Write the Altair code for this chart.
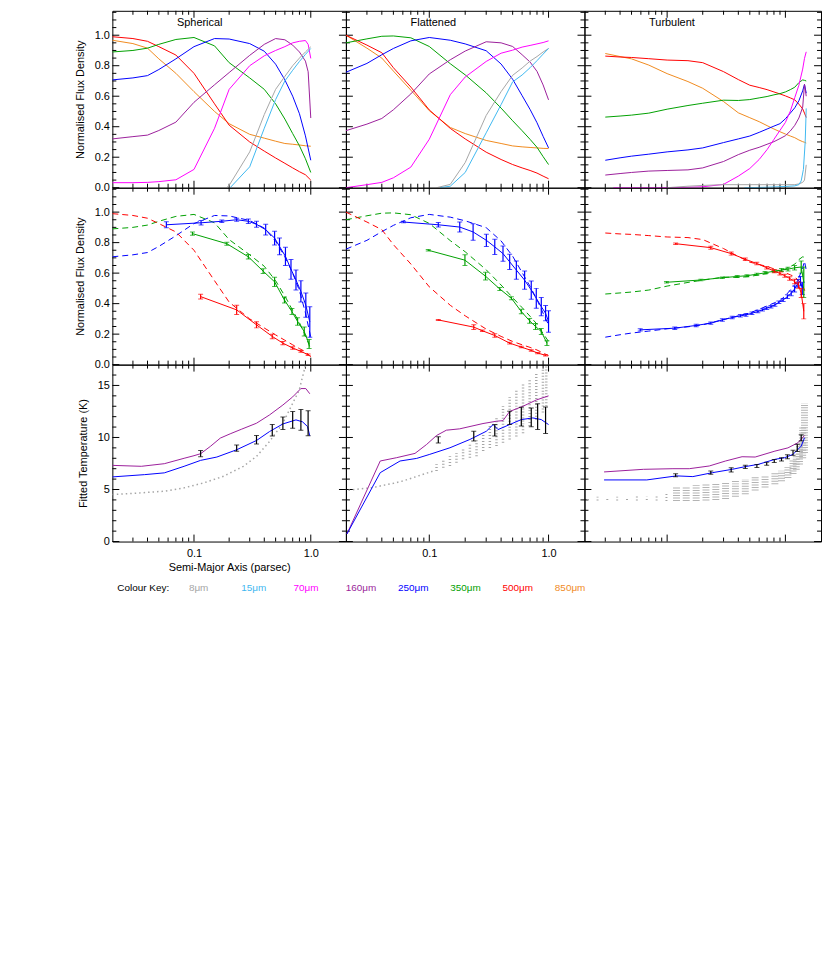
import altair as alt
import pandas as pd

FONT = "Liberation Sans"
W = [235, 240, 238]
H = 178
XDOM = [0.02, 2.0]
FLUX = [0.0, 1.16]
TEMP = [0.0, 17.0]

C8, C15, C70, C160, C250, C350, C500, C850 = ("#a6a6a6", "#3fb8f0", "#ff00ff", "#9b1f9b",
                                              "#0000ff", "#00a000", "#ff0000", "#f08a1e")
KEY_LABELS = ["8μm", "15μm", "70μm", "160μm", "250μm", "350μm", "500μm", "850μm"]
KEY_COLOURS = [C8, C15, C70, C160, C250, C350, C500, C850]
PANEL_TITLES = ["Spherical", "Flattened", "Turbulent"]

# tick values
MAJOR_X = [0.1, 1.0]
MINOR_X = [0.03, 0.04, 0.05, 0.06, 0.07, 0.08, 0.09, 0.2, 0.3, 0.4, 0.5, 0.6, 0.7, 0.8, 0.9]
FLUX_MAJOR = [0.0, 0.2, 0.4, 0.6, 0.8, 1.0]
FLUX_MINOR = [0.05, 0.1, 0.15, 0.25, 0.3, 0.35, 0.45, 0.5, 0.55, 0.65, 0.7, 0.75, 0.85, 0.9, 0.95,
              1.05, 1.1, 1.15]
T_MAJOR = [0, 5, 10, 15]
T_MINOR = [1, 2, 3, 4, 6, 7, 8, 9, 11, 12, 13, 14, 16]

# ---------------- Row 1 : Spherical ----------------
SPH_X = [0.02, 0.03, 0.04, 0.05, 0.07, 0.1, 0.15, 0.2, 0.3, 0.4, 0.5, 0.6, 0.7, 0.8, 0.9, 1.0]
SPH_X2 = [0.02, 0.03, 0.04, 0.05, 0.07, 0.1, 0.15, 0.2, 0.3, 0.4, 0.5, 0.6, 0.7, 0.8, 0.9, 0.95, 1.0]
sph_500 = [0.99, 0.978, 0.96, 0.925, 0.87, 0.75, 0.55, 0.41, 0.30, 0.24, 0.195, 0.16, 0.13, 0.105, 0.085, 0.05]
sph_850 = [0.967, 0.945, 0.915, 0.845, 0.75, 0.63, 0.50, 0.42, 0.35, 0.325, 0.305, 0.29, 0.285, 0.28, 0.275, 0.272]
sph_350 = [0.89, 0.90, 0.915, 0.94, 0.972, 0.985, 0.93, 0.82, 0.72, 0.645, 0.55, 0.45, 0.355, 0.275, 0.19, 0.10]
sph_250 = [0.707, 0.72, 0.735, 0.775, 0.845, 0.925, 0.978, 0.975, 0.945, 0.895, 0.81, 0.707, 0.60, 0.485, 0.34, 0.18]
sph_160 = [0.32, 0.335, 0.345, 0.375, 0.43, 0.56, 0.675, 0.755, 0.868, 0.94, 0.978, 0.97, 0.935, 0.89, 0.83, 0.76, 0.457]
sph_70 = [0.033, 0.033, 0.035, 0.04, 0.052, 0.12, 0.39, 0.645, 0.80, 0.865, 0.90, 0.925, 0.95, 0.96, 0.965, 0.94, 0.848]
sph_8_x = [0.19, 0.2, 0.3, 0.4, 0.5, 0.6, 0.7, 0.8, 0.9, 1.0]
sph_8 = [0.0, 0.015, 0.235, 0.48, 0.645, 0.73, 0.80, 0.85, 0.89, 0.924]
sph_15_x = [0.204, 0.3, 0.4, 0.5, 0.6, 0.7, 0.8, 0.9, 1.0]
sph_15 = [0.0, 0.137, 0.39, 0.578, 0.70, 0.77, 0.828, 0.874, 0.913]

# ---------------- Row 1 : Flattened ----------------
FLT_X = [0.02, 0.03, 0.04, 0.05, 0.07, 0.1, 0.15, 0.2, 0.3, 0.4, 0.5, 0.6, 0.7, 0.8, 0.9, 1.0]
flt_500 = [1.0, 0.935, 0.885, 0.787, 0.66, 0.51, 0.389, 0.32, 0.233, 0.185, 0.152, 0.13, 0.113, 0.096, 0.076, 0.059]
flt_850 = [1.0, 0.915, 0.85, 0.765, 0.64, 0.505, 0.395, 0.355, 0.31, 0.29, 0.274, 0.268, 0.264, 0.261, 0.258, 0.257]
flt_350 = [0.95, 0.976, 0.993, 0.995, 0.983, 0.926, 0.813, 0.74, 0.622, 0.522, 0.439, 0.374, 0.317, 0.265, 0.204, 0.152]
flt_250 = [0.757, 0.815, 0.872, 0.913, 0.963, 0.985, 0.967, 0.943, 0.898, 0.811, 0.711, 0.604, 0.513, 0.426, 0.337, 0.261]
flt_160 = [0.374, 0.417, 0.454, 0.511, 0.615, 0.746, 0.839, 0.896, 0.957, 0.95, 0.926, 0.872, 0.824, 0.763, 0.674, 0.576]
flt_70 = [0.0, 0.02, 0.035, 0.065, 0.135, 0.318, 0.61, 0.726, 0.828, 0.882, 0.902, 0.922, 0.933, 0.943, 0.952, 0.963]
flt_8_x = [0.115, 0.15, 0.2, 0.3, 0.4, 0.5, 0.6, 0.7, 0.8, 0.9, 1.0]
flt_8 = [0.0, 0.022, 0.165, 0.474, 0.63, 0.737, 0.785, 0.83, 0.86, 0.89, 0.913]
flt_15_x = [0.123, 0.15, 0.2, 0.3, 0.4, 0.5, 0.6, 0.7, 0.8, 0.9, 1.0]
flt_15 = [0.0, 0.01, 0.10, 0.36, 0.545, 0.694, 0.739, 0.787, 0.833, 0.876, 0.913]

# ---------------- Row 1 : Turbulent ----------------
TUR_X = [0.03, 0.04, 0.05, 0.07, 0.1, 0.15, 0.2, 0.3, 0.4, 0.5, 0.6, 0.7, 0.8, 0.9, 1.0, 1.1, 1.2, 1.3,
         1.4, 1.45, 1.5]
tur_500 = [0.863, 0.857, 0.854, 0.846, 0.837, 0.833, 0.82, 0.761, 0.709, 0.672, 0.657, 0.643, 0.628,
           0.615, 0.602, 0.589, 0.576, 0.548, 0.517, 0.489, 0.46]
tur_850 = [0.88, 0.86, 0.845, 0.804, 0.748, 0.696, 0.652, 0.565, 0.491, 0.459, 0.433, 0.407, 0.385,
           0.367, 0.352, 0.339, 0.328, 0.313, 0.302, 0.298, 0.293]
tur_350 = [0.463, 0.47, 0.476, 0.489, 0.515, 0.539, 0.554, 0.574, 0.572, 0.578, 0.589, 0.598, 0.609,
           0.617, 0.628, 0.643, 0.659, 0.689, 0.707, 0.704, 0.70]
tur_250 = [0.18, 0.196, 0.207, 0.22, 0.235, 0.248, 0.261, 0.296, 0.32, 0.339, 0.363, 0.385, 0.404,
           0.42, 0.452, 0.489, 0.524, 0.57, 0.635, 0.678, 0.62]
tur_160 = [0.083, 0.093, 0.10, 0.109, 0.113, 0.117, 0.13, 0.172, 0.217, 0.246, 0.265, 0.285, 0.302,
           0.322, 0.341, 0.372, 0.409, 0.457, 0.528, 0.678, 0.60]
tur_70_x = [0.035, 0.05, 0.07, 0.1, 0.15, 0.2, 0.3, 0.4, 0.5, 0.6, 0.7, 0.8, 0.9, 1.0, 1.1, 1.2, 1.3,
            1.4, 1.45, 1.5]
tur_70 = [0.0, 0.0, 0.0, 0.0, 0.003, 0.006, 0.022, 0.076, 0.126, 0.185, 0.25, 0.317, 0.376, 0.428,
          0.502, 0.591, 0.672, 0.778, 0.848, 0.891]
tur_8_x = [0.1, 0.15, 0.2, 0.3, 0.5, 0.7, 1.0, 1.2, 1.3, 1.4, 1.45, 1.5]
tur_8 = [0.0, 0.01, 0.015, 0.02, 0.02, 0.02, 0.02, 0.02, 0.025, 0.035, 0.05, 0.15]
tur_15_x = [0.45, 0.7, 1.0, 1.2, 1.3, 1.36, 1.42, 1.47, 1.5]
tur_15 = [0.0, 0.003, 0.008, 0.012, 0.02, 0.045, 0.12, 0.3, 0.52]

# ---------------- Row 2 : fitted profiles (x, value, error) ----------------
sph_fit_250_x = [0.058, 0.115, 0.173, 0.232, 0.292, 0.343, 0.411, 0.49, 0.54, 0.607, 0.677, 0.747,
                 0.823, 0.907, 0.981]
sph_fit_250 = [0.917, 0.93, 0.94, 0.95, 0.94, 0.92, 0.885, 0.83, 0.775, 0.71, 0.625, 0.555, 0.48, 0.39, 0.28]
sph_fit_250_e = [0.02, 0.015, 0.008, 0.01, 0.015, 0.02, 0.035, 0.045, 0.055, 0.06, 0.065, 0.065, 0.07,
                 0.08, 0.1]
sph_fit_350_x = [0.097, 0.191, 0.292, 0.391, 0.49, 0.595, 0.69, 0.771, 0.879, 0.968]
sph_fit_350 = [0.859, 0.793, 0.707, 0.613, 0.543, 0.424, 0.348, 0.283, 0.217, 0.135]
sph_fit_350_e = [0.01, 0.01, 0.015, 0.015, 0.03, 0.02, 0.02, 0.025, 0.03, 0.03]
sph_fit_500_x = [0.114, 0.232, 0.343, 0.468, 0.577, 0.70, 0.823, 0.949]
sph_fit_500 = [0.446, 0.359, 0.261, 0.185, 0.141, 0.109, 0.087, 0.065]
sph_fit_500_e = [0.015, 0.03, 0.02, 0.015, 0.01, 0.008, 0.006, 0.005]

flt_fit_250_x = [0.0607, 0.119, 0.180, 0.233, 0.301, 0.354, 0.415, 0.472, 0.537, 0.630, 0.716, 0.789,
                 0.869, 0.944, 1.0]
flt_fit_250 = [0.935, 0.917, 0.902, 0.87, 0.815, 0.772, 0.728, 0.674, 0.62, 0.554, 0.489, 0.435, 0.38,
               0.337, 0.283]
flt_fit_250_e = [0.005, 0.015, 0.033, 0.054, 0.04, 0.05, 0.05, 0.05, 0.06, 0.06, 0.06, 0.065, 0.06, 0.05, 0.07]
flt_fit_350_x = [0.098, 0.199, 0.296, 0.39, 0.488, 0.591, 0.694, 0.778, 0.869, 0.969]
flt_fit_350 = [0.75, 0.685, 0.58, 0.496, 0.435, 0.348, 0.287, 0.25, 0.217, 0.141]
flt_fit_350_e = [0.005, 0.035, 0.025, 0.01, 0.01, 0.015, 0.015, 0.02, 0.02, 0.015]
flt_fit_500_x = [0.119, 0.236, 0.279, 0.354, 0.472, 0.591, 0.716, 0.81, 0.944]
flt_fit_500 = [0.293, 0.246, 0.222, 0.191, 0.141, 0.115, 0.093, 0.076, 0.061]
flt_fit_500_e = [0.003, 0.015, 0.005, 0.012, 0.005, 0.005, 0.005, 0.004, 0.004]

tur_fit_500_x = [0.118, 0.234, 0.348, 0.458, 0.573, 0.695, 0.805, 0.898, 0.988, 1.086, 1.196, 1.29, 1.36, 1.43]
tur_fit_500 = [0.793, 0.767, 0.728, 0.691, 0.663, 0.635, 0.613, 0.598, 0.583, 0.565, 0.545, 0.52, 0.47, 0.35]
tur_fit_500_e = [0.005, 0.01, 0.01, 0.008, 0.008, 0.008, 0.01, 0.01, 0.01, 0.012, 0.015, 0.02, 0.03, 0.05]
tur_fit_350_x = [0.0987, 0.193, 0.293, 0.391, 0.473, 0.573, 0.673, 0.805, 0.927, 1.052, 1.196, 1.36, 1.43]
tur_fit_350 = [0.54, 0.555, 0.57, 0.578, 0.583, 0.593, 0.602, 0.613, 0.62, 0.626, 0.635, 0.64, 0.54]
tur_fit_350_e = [0.005, 0.005, 0.005, 0.006, 0.006, 0.007, 0.008, 0.008, 0.01, 0.012, 0.015, 0.04, 0.1]
tur_fit_250_x = [0.0592, 0.116, 0.176, 0.234, 0.293, 0.355, 0.416, 0.464, 0.521, 0.585, 0.640, 0.695,
                 0.755, 0.815, 0.880, 0.957, 1.04, 1.12, 1.196, 1.275, 1.34, 1.39]
tur_fit_250 = [0.228, 0.239, 0.257, 0.272, 0.293, 0.309, 0.32, 0.326, 0.337, 0.348, 0.359, 0.37, 0.38,
               0.391, 0.409, 0.424, 0.446, 0.467, 0.496, 0.533, 0.548, 0.5]
tur_fit_250_e = [0.008, 0.008, 0.008, 0.008, 0.008, 0.008, 0.008, 0.008, 0.008, 0.008, 0.008, 0.008,
                 0.008, 0.008, 0.008, 0.01, 0.012, 0.015, 0.02, 0.025, 0.03, 0.04]

# ---------------- Row 3 : fitted temperatures ----------------
sph_t160_x = [0.02, 0.0354, 0.0557, 0.0823, 0.1, 0.114, 0.138, 0.168, 0.204, 0.256, 0.343, 0.444, 0.577,
              0.70, 0.823, 0.907, 0.981]
sph_t160 = [7.32, 7.23, 7.48, 8.0, 8.25, 8.44, 9.14, 9.94, 10.35, 10.8, 11.37, 12.17, 13.12, 13.9, 14.7, 14.7, 14.2]
sph_t250_x = [0.02, 0.0378, 0.0557, 0.0823, 0.114, 0.157, 0.232, 0.343, 0.444, 0.577, 0.747, 0.851, 0.938, 0.981]
sph_t250 = [6.21, 6.43, 6.6, 7.23, 7.8, 8.12, 8.82, 9.71, 10.57, 11.3, 11.69, 11.5, 11.05, 10.16]
sph_tfit_x = [0.114, 0.232, 0.343, 0.468, 0.577, 0.70, 0.823, 0.949]
sph_tfit = [8.44, 8.98, 9.78, 10.7, 11.37, 11.69, 11.69, 11.37]
sph_tfit_e = [0.3, 0.3, 0.4, 0.55, 0.6, 0.8, 1.0, 1.2]
sph_t8_x = [0.02, 0.0354, 0.0557, 0.0823, 0.1215, 0.179, 0.265, 0.343, 0.444, 0.577, 0.70, 0.796, 0.879, 0.93]
sph_t8 = [4.52, 4.68, 4.84, 5.16, 5.64, 6.27, 7.23, 8.18, 9.62, 11.37, 13.28, 14.55, 16.46, 17.4]

flt_t160_x = [0.0204, 0.0388, 0.0533, 0.0759, 0.095, 0.115, 0.139, 0.180, 0.282, 0.365, 0.415, 0.472,
              0.61, 0.789, 1.0]
flt_t160 = [0.73, 7.74, 8.06, 8.47, 9.33, 10.19, 10.7, 10.83, 11.34, 11.56, 11.62, 12.5, 13.0, 13.6, 14.0]
flt_t250_x = [0.0204, 0.0388, 0.0569, 0.0784, 0.101, 0.149, 0.219, 0.301, 0.343, 0.377, 0.472, 0.591,
              0.739, 0.869, 1.0]
flt_t250 = [0.73, 6.62, 7.74, 7.99, 8.38, 9.01, 9.81, 10.6, 11.24, 10.76, 11.24, 11.72, 11.88, 11.72, 11.24]
flt_tfit_x = [0.119, 0.236, 0.354, 0.472, 0.591, 0.716, 0.81, 0.944]
flt_tfit = [9.78, 10.13, 10.7, 11.88, 12.0, 11.94, 12.0, 11.65]
flt_tfit_e = [0.3, 0.48, 0.55, 0.64, 0.9, 0.9, 1.24, 1.27]
flt_t8_x = [0.021, 0.034, 0.0413, 0.05, 0.0607, 0.0735, 0.089, 0.108]
flt_t8 = [4.94, 5.19, 5.41, 5.6, 5.83, 6.15, 6.46, 6.78]
flt_t8c_x = [0.115, 0.131, 0.149, 0.169, 0.192, 0.219, 0.249, 0.283, 0.322, 0.366, 0.415, 0.472, 0.537,
             0.611, 0.694, 0.789, 0.897, 0.957]
flt_t8c_lo = [6.78, 7.1, 7.26, 7.58, 7.9, 8.06, 8.2, 8.7, 9.0, 9.17, 9.5, 9.8, 10.1, 10.4, 11.1, 11.7, 12.4, 13.0]
flt_t8c_hi = [7.42, 7.9, 8.2, 8.5, 8.85, 9.33, 9.8, 10.3, 11.1, 12.0, 13.0, 13.9, 14.6, 15.2, 15.7, 16.2,
              16.7, 17.1]

tur_t160_x = [0.0293, 0.063, 0.112, 0.154, 0.227, 0.312, 0.43, 0.555, 0.815, 1.05, 1.275, 1.45]
tur_t160 = [6.69, 6.94, 7.0, 7.0, 7.26, 7.74, 8.15, 8.12, 8.69, 9.0, 9.49, 10.19]
tur_t250_x = [0.0293, 0.0673, 0.12, 0.165, 0.242, 0.355, 0.458, 0.591, 0.815, 0.988, 1.16, 1.275, 1.36, 1.45]
tur_t250 = [5.92, 5.92, 6.31, 6.24, 6.62, 6.94, 7.2, 7.42, 7.9, 8.06, 8.38, 8.85, 9.17, 9.97]
tur_tfit_x = [0.118, 0.234, 0.348, 0.458, 0.574, 0.695, 0.805, 0.927, 1.04, 1.16, 1.26, 1.36]
tur_tfit = [6.37, 6.62, 6.88, 7.17, 7.26, 7.48, 7.74, 7.9, 8.15, 8.53, 9.0, 9.97]
tur_tfit_e = [0.15, 0.15, 0.2, 0.15, 0.15, 0.15, 0.15, 0.15, 0.2, 0.25, 0.35, 0.3]
tur_t8s_x = [0.0213, 0.0258, 0.0312, 0.0378, 0.0458, 0.0555, 0.0673, 0.0815, 0.0987]
tur_t8s_lo = [4.0, 3.95, 4.0, 3.95, 4.0, 3.95, 4.0, 3.95, 3.9]
tur_t8s_hi = [4.2, 4.3, 4.2, 4.3, 4.25, 4.35, 4.3, 4.4, 4.6]
tur_t8c_x = [0.12, 0.145, 0.176, 0.213, 0.258, 0.312, 0.378, 0.458, 0.555, 0.673, 0.815, 0.927, 1.05,
             1.16, 1.235, 1.315, 1.40, 1.45]
tur_t8c_lo = [3.9, 3.9, 3.9, 3.95, 4.0, 4.1, 4.3, 4.55, 4.9, 5.2, 5.5, 5.8, 6.1, 6.5, 6.9, 7.4, 8.0, 8.5]
tur_t8c_hi = [5.3, 5.3, 5.4, 5.5, 5.6, 5.7, 5.85, 6.0, 6.2, 6.4, 6.6, 6.8, 7.2, 7.8, 8.4, 9.5, 11.0, 13.3]


# ---------------- helpers ----------------
# axes of the panel being built; every layer of a panel gets the same axis definitions
AX = {"x": None, "y": None}


def xsc():
    return alt.Scale(type="log", domain=XDOM, nice=False)


def ysc(dom):
    return alt.Scale(domain=dom, nice=False, zero=False)


def X(field):
    return alt.X(field, scale=xsc(), axis=AX["x"])


def Y(field, dom):
    return alt.Y(field, scale=ysc(dom), axis=AX["y"])


def line(xs, ys, color, ydom, dash=None, width=1.0):
    kw = dict(color=color, strokeWidth=width, clip=True)
    if dash:
        kw["strokeDash"] = dash
    return alt.Chart(pd.DataFrame({"x": xs, "y": ys})).mark_line(**kw).encode(
        x=X("x:Q"), y=Y("y:Q", ydom))


def errbars(xs, ys, es, color, ydom, fit_line=True):
    df = pd.DataFrame({"x": xs, "y": ys,
                       "lo": [a - b for a, b in zip(ys, es)],
                       "hi": [a + b for a, b in zip(ys, es)]})
    out = []
    if fit_line:
        out.append(alt.Chart(df).mark_line(color=color, strokeWidth=1, clip=True).encode(
            x=X("x:Q"), y=Y("y:Q", ydom)))
    out.append(alt.Chart(df).mark_rule(color=color, strokeWidth=1.2, clip=True).encode(
        x=X("x:Q"), y=Y("lo:Q", ydom), y2="hi:Q"))
    for f in ("lo", "hi"):
        out.append(alt.Chart(df).mark_tick(color=color, orient="horizontal", size=5, thickness=1,
                                           clip=True).encode(x=X("x:Q"), y=Y(f + ":Q", ydom)))
    return out


def columns(xs, lo, hi, ydom, width, dash, color=C8, opacity=1.0):
    df = pd.DataFrame({"x": xs, "lo": lo, "hi": hi})
    return alt.Chart(df).mark_rule(color=color, strokeWidth=width, strokeDash=dash, clip=True,
                                   opacity=opacity).encode(
        x=X("x:Q"), y=Y("lo:Q", ydom), y2="hi:Q")


def tick_layers(c, ydom, ymajor, yminor):
    w = W[c]
    out = []
    for vals, L in ((MAJOR_X, 7), (MINOR_X, 4)):
        df = pd.DataFrame({"t": vals})
        out.append(alt.Chart(df).mark_rule(color="black", strokeWidth=1).encode(
            x=X("t:Q"), y=alt.value(H), y2=alt.value(H - L)))
        out.append(alt.Chart(df).mark_rule(color="black", strokeWidth=1).encode(
            x=X("t:Q"), y=alt.value(0), y2=alt.value(L)))
    for vals, L in ((ymajor, 7), (yminor, 4)):
        df = pd.DataFrame({"t": vals})
        out.append(alt.Chart(df).mark_rule(color="black", strokeWidth=1).encode(
            y=Y("t:Q", ydom), x=alt.value(0), x2=alt.value(L)))
        out.append(alt.Chart(df).mark_rule(color="black", strokeWidth=1).encode(
            y=Y("t:Q", ydom), x=alt.value(w), x2=alt.value(w - L)))
    return out


def flux_axis():
    return alt.Axis(values=FLUX_MAJOR, format=".1f", title="Normalised Flux Density",
                    labelPadding=3, titlePadding=9)


def temp_axis():
    return alt.Axis(values=T_MAJOR, format="d", title="Fitted Temperature (K)",
                    labelPadding=3, titlePadding=9)


def x_axis(title):
    if title:
        return alt.Axis(values=MAJOR_X, format=".1f", title=title, labelPadding=6, titlePadding=3)
    return alt.Axis(values=MAJOR_X, format=".1f", title=None, labelPadding=6)


def panel_title(text):
    return alt.Chart(pd.DataFrame({"t": [text]})).mark_text(
        align="left", baseline="middle", font=FONT, fontSize=11, color="black").encode(
        text="t:N", x=alt.value(65), y=alt.value(12))


# ---------------- build panels ----------------
panels = []

# row 1
row1 = [
    [(SPH_X, sph_850, C850), (SPH_X, sph_500, C500), (SPH_X, sph_350, C350), (SPH_X, sph_250, C250),
     (SPH_X2, sph_160, C160), (SPH_X2, sph_70, C70), (sph_8_x, sph_8, C8), (sph_15_x, sph_15, C15)],
    [(FLT_X, flt_850, C850), (FLT_X, flt_500, C500), (FLT_X, flt_350, C350), (FLT_X, flt_250, C250),
     (FLT_X, flt_160, C160), (FLT_X, flt_70, C70), (flt_8_x, flt_8, C8), (flt_15_x, flt_15, C15)],
    [(TUR_X, tur_850, C850), (TUR_X, tur_500, C500), (TUR_X, tur_350, C350), (TUR_X, tur_250, C250),
     (TUR_X, tur_160, C160), (tur_70_x, tur_70, C70), (tur_8_x, tur_8, C8), (tur_15_x, tur_15, C15)],
]
for c in range(3):
    AX["x"] = None
    AX["y"] = flux_axis() if c == 0 else None
    layers = tick_layers(c, FLUX, FLUX_MAJOR, FLUX_MINOR)
    for xs, ys, col in row1[c]:
        layers.append(line(xs, ys, col, FLUX))
    layers.append(panel_title(PANEL_TITLES[c]))
    panels.append(alt.layer(*layers).properties(width=W[c], height=H))

# row 2
row2_models = [
    [(SPH_X, sph_250, C250), (SPH_X, sph_350, C350), (SPH_X, sph_500, C500)],
    [(FLT_X, flt_250, C250), (FLT_X, flt_350, C350), (FLT_X, flt_500, C500)],
    [(TUR_X, tur_250, C250), (TUR_X, tur_350, C350), (TUR_X, tur_500, C500)],
]
row2_fits = [
    [(sph_fit_250_x, sph_fit_250, sph_fit_250_e, C250), (sph_fit_350_x, sph_fit_350, sph_fit_350_e, C350),
     (sph_fit_500_x, sph_fit_500, sph_fit_500_e, C500)],
    [(flt_fit_250_x, flt_fit_250, flt_fit_250_e, C250), (flt_fit_350_x, flt_fit_350, flt_fit_350_e, C350),
     (flt_fit_500_x, flt_fit_500, flt_fit_500_e, C500)],
    [(tur_fit_250_x, tur_fit_250, tur_fit_250_e, C250), (tur_fit_350_x, tur_fit_350, tur_fit_350_e, C350),
     (tur_fit_500_x, tur_fit_500, tur_fit_500_e, C500)],
]
for c in range(3):
    AX["x"] = None
    AX["y"] = flux_axis() if c == 0 else None
    layers = tick_layers(c, FLUX, FLUX_MAJOR, FLUX_MINOR)
    for xs, ys, col in row2_models[c]:
        layers.append(line(xs, ys, col, FLUX, dash=[6, 4]))
    for xs, ys, es, col in row2_fits[c]:
        layers += errbars(xs, ys, es, col, FLUX)
    panels.append(alt.layer(*layers).properties(width=W[c], height=H))

# row 3 - spherical
AX["x"] = x_axis("Semi-Major Axis (parsec)")
AX["y"] = temp_axis()
layers = tick_layers(0, TEMP, T_MAJOR, T_MINOR)
layers.append(line(sph_t8_x, sph_t8, C8, TEMP, dash=[1.5, 3], width=1.5))
layers.append(line(sph_t160_x, sph_t160, C160, TEMP))
layers.append(line(sph_t250_x, sph_t250, C250, TEMP))
layers += errbars(sph_tfit_x, sph_tfit, sph_tfit_e, "black", TEMP, fit_line=False)
layers.append(alt.Chart(pd.DataFrame({"t": ["Colour Key:"]})).mark_text(
    align="left", baseline="middle", font=FONT, fontSize=10, color="black").encode(
    text="t:N", x=alt.value(5), y=alt.value(H + 47)))
for i, (lab, col) in enumerate(zip(KEY_LABELS, KEY_COLOURS)):
    layers.append(alt.Chart(pd.DataFrame({"t": [lab]})).mark_text(
        align="left", baseline="middle", font=FONT, fontSize=10, color=col).encode(
        text="t:N", x=alt.value(77 + i * 52.6), y=alt.value(H + 47)))
panels.append(alt.layer(*layers).properties(width=W[0], height=H))

# row 3 - flattened
AX["x"] = x_axis(None)
AX["y"] = None
layers = tick_layers(1, TEMP, T_MAJOR, T_MINOR)
layers.append(line(flt_t8_x, flt_t8, C8, TEMP, dash=[1.5, 3], width=1.5))
layers.append(columns(flt_t8c_x, flt_t8c_lo, flt_t8c_hi, TEMP, 2.5, [1, 2]))
layers.append(line(flt_t160_x, flt_t160, C160, TEMP))
layers.append(line(flt_t250_x, flt_t250, C250, TEMP))
layers += errbars(flt_tfit_x, flt_tfit, flt_tfit_e, "black", TEMP, fit_line=False)
panels.append(alt.layer(*layers).properties(width=W[1], height=H))

# row 3 - turbulent
AX["x"] = None
AX["y"] = None
layers = tick_layers(2, TEMP, T_MAJOR, T_MINOR)
layers.append(columns(tur_t8s_x, tur_t8s_lo, tur_t8s_hi, TEMP, 2, [1, 2]))
layers.append(columns(tur_t8c_x, tur_t8c_lo, tur_t8c_hi, TEMP, 7, [1, 1.5], color="#b4b4b4"))
layers.append(line(tur_t160_x, tur_t160, C160, TEMP))
layers.append(line(tur_t250_x, tur_t250, C250, TEMP))
layers += errbars(tur_tfit_x, tur_tfit, tur_tfit_e, "black", TEMP, fit_line=False)
panels.append(alt.layer(*layers).properties(width=W[2], height=H))

chart = alt.concat(*panels, columns=3, spacing=0, bounds="flush").properties(
    padding={"left": 66, "top": 0, "right": 0, "bottom": 5}
).configure_view(stroke="black", strokeWidth=1).configure_axis(
    labelFont=FONT, titleFont=FONT, labelFontSize=11, titleFontSize=11, titleFontWeight="normal",
    labelColor="black", titleColor="black", domain=False, ticks=False, grid=False
)

chart.save("out.html", embed_options={"renderer": "svg", "actions": False})
